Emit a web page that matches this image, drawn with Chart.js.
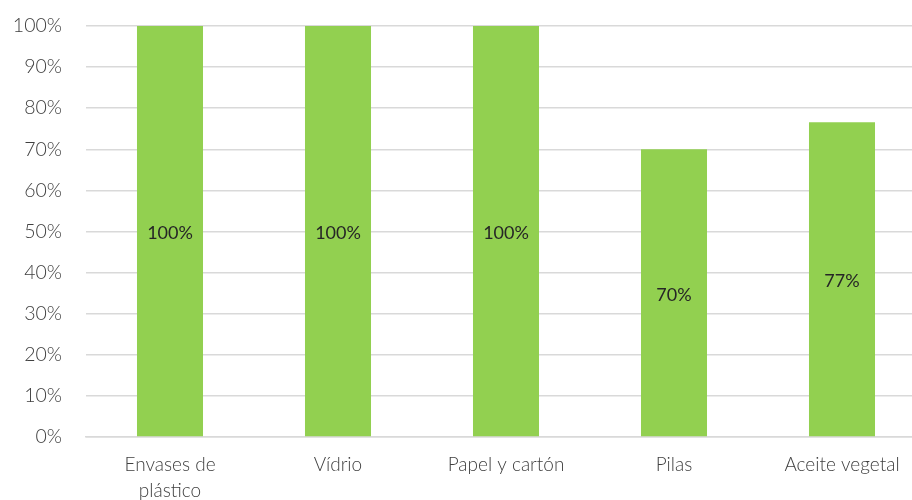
<!DOCTYPE html>
<html>
<head>
<meta charset="utf-8">
<script src="https://cdn.jsdelivr.net/npm/chart.js@4"></script>
<style>
  html, body { margin: 0; padding: 0; background: #ffffff; overflow: hidden; }
  #wrap { width: 912px; height: 500px; overflow: hidden; }
  canvas { display: block; }
</style>
</head>
<body>
<div id="wrap"><canvas id="chart" width="926" height="500"></canvas></div>
<script>
// Categories and values (percent)
const categories = [["Envases de", "plástico"], "Vídrio", "Papel y cartón", "Pilas", "Aceite vegetal"];
const values = [100, 100, 100, 70, 76.6];
const yTicks = [0, 10, 20, 30, 40, 50, 60, 70, 80, 90, 100];

const FONT = "Lato, 'Open Sans', sans-serif";

/**
 * Draw value labels in the middle of each bar
 */
const barLabels = {
  id: "barLabels",
  afterDatasetsDraw(chart) {
    const ctx = chart.ctx;
    const meta = chart.getDatasetMeta(0);
    ctx.save();
    ctx.font = "18px " + FONT;
    ctx.fillStyle = "#262626";
    ctx.textAlign = "center";
    ctx.textBaseline = "middle";
    meta.data.forEach((bar, i) => {
      const { x, y, base } = bar.getProps(["x", "y", "base"], true);
      ctx.fillText(Math.round(values[i]) + "%", x, (y + base) / 2 + 2);
    });
    ctx.restore();
  },
};

new Chart(document.getElementById("chart").getContext("2d"), {
  type: "bar",
  data: {
    labels: categories,
    datasets: [
      {
        data: values,
        backgroundColor: "#92d050",
        borderWidth: 0,
        barPercentage: 0.393,
        categoryPercentage: 1,
      },
    ],
  },
  options: {
    responsive: false,
    animation: false,
    layout: { padding: { top: 26, left: 0, right: 0, bottom: 0 } },
    scales: {
      y: {
        min: 0,
        max: 100,
        afterBuildTicks: (scale) => {
          scale.ticks = yTicks.map((v) => ({ value: v }));
        },
        afterFit: (scale) => {
          scale.width = 86;
          scale.paddingTop = 0;
          scale.paddingBottom = 0;
        },
        ticks: {
          callback: (v) => v + "%",
          color: "#404040",
          font: { family: FONT, size: 19.5, weight: 300 },
          padding: 24,
        },
        grid: { color: "#d9d9d9", lineWidth: 1.5, drawTicks: false },
        border: { display: false },
      },
      x: {
        afterFit: (scale) => {
          scale.height = 63;
        },
        ticks: {
          color: "#404040",
          font: { family: FONT, size: 19, weight: 300, lineHeight: 1.38 },
          padding: 15,
          maxRotation: 0,
        },
        grid: { display: false, drawTicks: false },
        border: { color: "#d9d9d9", width: 1.5 },
      },
    },
    plugins: {
      legend: { display: false },
      tooltip: { enabled: false },
    },
  },
  plugins: [barLabels],
});
</script>
</body>
</html>
